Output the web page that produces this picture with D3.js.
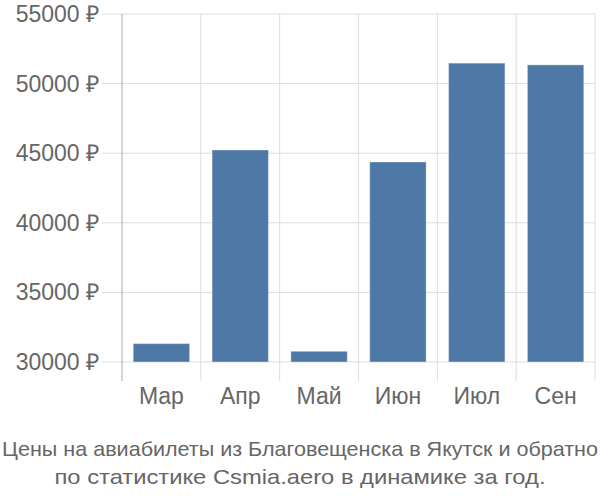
<!DOCTYPE html>
<html>
<head>
<meta charset="utf-8">
<script src="https://cdn.jsdelivr.net/npm/d3@7"></script>
<style>
  html, body { margin: 0; padding: 0; background: #fff; }
  svg { display: block; font-family: "Liberation Sans", Arial, sans-serif; }
</style>
</head>
<body>
<svg id="chart" width="600" height="500"></svg>
<script>
const categories = ["Мар", "Апр", "Май", "Июн", "Июл", "Сен"];
const prices = [31320, 45230, 30770, 44370, 51470, 51345];
const yTicks = [30000, 35000, 40000, 45000, 50000, 55000];
const titleLines = [
  "Цены на авиабилеты из Благовещенска в Якутск и обратно",
  "по статистике Csmia.aero в динамике за год."
];

(function () {
const svg = d3.select("#chart");
const plotLeft = 122, plotRight = 595, plotTop = 14, plotBase = 362, axisBottom = 381;

const x = d3.scaleBand().domain(categories).range([plotLeft, plotRight]).paddingInner(0.285).paddingOuter(0.1425);
const y = d3.scaleLinear().domain([30000, 55000]).range([plotBase, plotTop]);

const bandStep = x.step();
const bounds = d3.range(categories.length + 1).map(i => plotLeft + i * bandStep);

// vertical grid lines at band boundaries
svg.append("g").selectAll("line").data(bounds.slice(1)).join("line")
  .attr("x1", d => d).attr("x2", d => d)
  .attr("y1", plotTop).attr("y2", axisBottom)
  .attr("stroke", "#dddddd").attr("stroke-width", 1);

// horizontal grid lines
svg.append("g").selectAll("line").data(yTicks).join("line")
  .attr("x1", 102).attr("x2", plotRight)
  .attr("y1", d => y(d)).attr("y2", d => y(d))
  .attr("stroke", "#dddddd").attr("stroke-width", 1);

// y axis line
svg.append("line")
  .attr("x1", plotLeft).attr("x2", plotLeft).attr("y1", plotTop).attr("y2", axisBottom)
  .attr("stroke", "#aaaaaa").attr("stroke-width", 1);

// bars
svg.append("g").selectAll("rect").data(prices).join("rect")
  .attr("x", (d, i) => x(categories[i]))
  .attr("width", x.bandwidth())
  .attr("y", d => y(d))
  .attr("height", d => y(30000) - y(d))
  .attr("fill", "#4e79a7")
  .attr("stroke", "#ffffff").attr("stroke-opacity", 0.35).attr("stroke-width", 1);

// y tick labels
svg.append("g").selectAll("text").data(yTicks).join("text")
  .attr("x", 99).attr("y", d => y(d)).attr("dy", "0.35em")
  .attr("text-anchor", "end")
  .attr("font-size", 23).attr("fill", "#666666")
  .text(d => d + " ₽");

// category labels
svg.append("g").selectAll("text").data(categories).join("text")
  .attr("x", d => x(d) + x.bandwidth() / 2).attr("y", 404)
  .attr("text-anchor", "middle")
  .attr("font-size", 23).attr("fill", "#666666")
  .text(d => d);

// title
const titleWidths = [596, 491];
svg.append("g").selectAll("text").data(titleLines).join("text")
  .attr("x", 300).attr("y", (d, i) => 456 + i * 27.5)
  .attr("text-anchor", "middle")
  .attr("font-size", 21).attr("fill", "#666666")
  .attr("textLength", (d, i) => titleWidths[i])
  .attr("lengthAdjust", "spacingAndGlyphs")
  .text(d => d);
})();
</script>
</body>
</html>
